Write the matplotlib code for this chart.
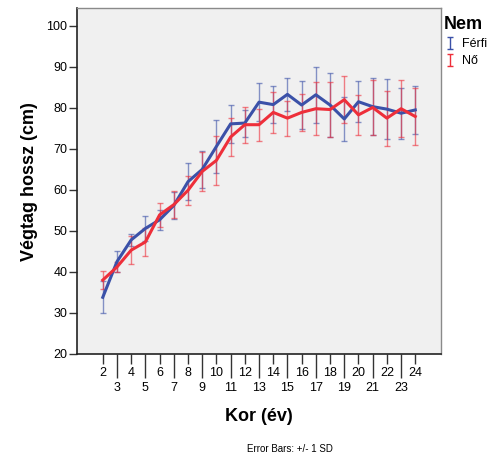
import numpy as np
import matplotlib
matplotlib.use("Agg")
import matplotlib.pyplot as plt
from matplotlib.path import Path
from matplotlib.lines import Line2D

plt.rcParams['font.family'] = ['Liberation Sans', 'DejaVu Sans']

ages = list(range(2, 25))
ferfi_mean = [33.8, 42.5, 47.8, 50.6, 52.7, 56.2, 62.0, 65.0, 70.6, 76.1, 76.3, 81.4,
              80.8, 83.3, 80.7, 83.2, 80.7, 77.3, 81.5, 80.3, 79.7, 78.7, 79.5]
ferfi_sd = [3.9, 2.5, 1.5, 3.0, 2.4, 3.2, 4.5, 4.6, 6.5, 4.7, 3.3, 4.6,
            4.6, 4.0, 5.9, 6.8, 7.8, 5.3, 5.0, 7.0, 7.3, 6.2, 5.9]
no_mean = [38.0, 41.2, 45.3, 47.3, 53.9, 56.4, 59.9, 64.5, 67.2, 72.9, 75.9, 75.9,
           78.9, 77.5, 78.9, 79.8, 79.6, 82.0, 78.3, 80.1, 77.5, 79.8, 77.9]
no_sd = [2.1, 1.3, 3.4, 3.5, 3.0, 3.3, 3.6, 4.7, 6.0, 4.7, 4.4, 3.9,
         5.0, 4.3, 4.6, 6.5, 6.7, 5.8, 4.8, 6.6, 6.7, 6.9, 7.0]

blue = '#3B51A8'
red = '#EE2F3A'

fig = plt.figure(figsize=(4.94, 4.59), dpi=100)
ax = fig.add_axes([0.156, 0.229, 0.737, 0.753])
ax.set_facecolor('#F0F0F0')

# hibasávok (+/- 1 SD) és átlagvonalak
for m, s, c in [(ferfi_mean, ferfi_sd, blue), (no_mean, no_sd, red)]:
    ax.errorbar(ages, m, yerr=s, fmt='none', ecolor=c, elinewidth=1,
                capsize=2.2, capthick=1, alpha=0.6, zorder=2)
    ax.plot(ages, m, color=c, lw=2.2, zorder=3)

ax.set_xlim(0.19, 25.82)
ax.set_ylim(20, 104.3)
ax.set_yticks(range(20, 101, 10))

# páros címkék felül, páratlanok alul (hosszú tick)
even = [a for a in ages if a % 2 == 0]
odd = [a for a in ages if a % 2 == 1]
ax.set_xticks(even)
ax.set_xticklabels([str(a) for a in even])
ax.set_xticks(odd, minor=True)
ax.set_xticklabels([str(a) for a in odd], minor=True)
ax.tick_params(axis='x', which='major', length=7, width=1, labelsize=9, pad=2.5, color='#333333')
ax.tick_params(axis='x', which='minor', length=17.5, width=1, labelsize=9, pad=2.5, color='#333333')
ax.tick_params(axis='y', length=6, width=1, labelsize=9, pad=1, color='#333333')

for sp in ['left', 'bottom']:
    ax.spines[sp].set_color('#222222')
    ax.spines[sp].set_linewidth(1.2)
for sp in ['top', 'right']:
    ax.spines[sp].set_color('#8A8A8A')
    ax.spines[sp].set_linewidth(1)

ax.set_ylabel('Végtag hossz (cm)', fontsize=13, fontweight='bold', labelpad=6)
ax.set_xlabel('Kor (év)', fontsize=13, fontweight='bold', labelpad=10)

fig.text(0.587, 0.022, 'Error Bars: +/- 1 SD', fontsize=7, ha='center', va='center')

ibeam = Path([(-0.5, 1), (0.5, 1), (0, 1), (0, -1), (-0.5, -1), (0.5, -1)],
             [Path.MOVETO, Path.LINETO, Path.MOVETO, Path.LINETO, Path.MOVETO, Path.LINETO])
handles = [Line2D([], [], linestyle='none', marker=ibeam, markersize=9,
                  markeredgewidth=1, color=blue),
           Line2D([], [], linestyle='none', marker=ibeam, markersize=9,
                  markeredgewidth=1, color=red)]
leg = fig.legend(handles, ['Férfi', 'Nő'], title='Nem', loc='upper left',
                 bbox_to_anchor=(0.888, 0.975), frameon=False, fontsize=9,
                 title_fontproperties={'weight': 'bold', 'size': 13},
                 alignment='left', handlelength=1.0, handletextpad=0.5,
                 labelspacing=0.4, borderaxespad=0)

fig.savefig('out.png', dpi=100)
